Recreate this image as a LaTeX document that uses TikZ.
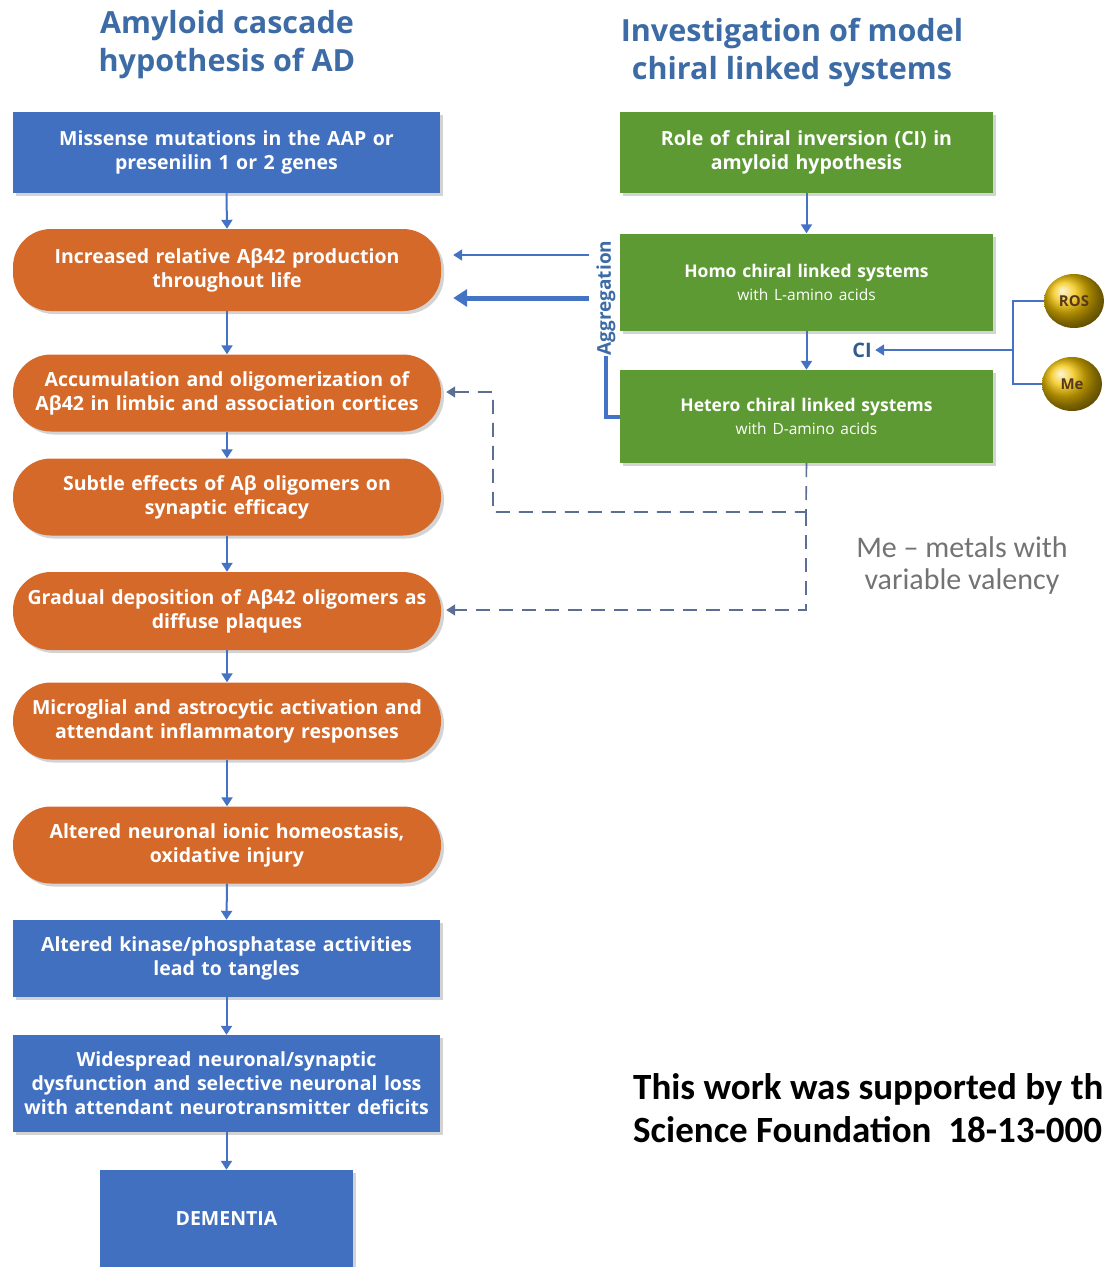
\documentclass[tikz,border=0pt]{standalone}
\usepackage{fontspec}
\setmainfont{Open Sans}
\newfontfamily\calfont{Carlito}
\usetikzlibrary{arrows.meta,shadows,shapes.geometric}
\definecolor{boxblue}{HTML}{4170C0}
\definecolor{boxorange}{HTML}{D4692A}
\definecolor{boxgreen}{HTML}{5E9A34}
\definecolor{titleblue}{HTML}{3C6BA5}
\definecolor{arrblue}{HTML}{4472C4}
\definecolor{dashblue}{HTML}{5B6F95}
\definecolor{gold}{HTML}{F2C200}
\begin{document}
\begin{tikzpicture}[x=1pt,y=-1pt,
  base/.style={text=white,font=\bfseries\fontsize{19.5}{24}\selectfont,align=center,inner sep=2pt,
    drop shadow={opacity=0.35,shadow xshift=3pt,shadow yshift=-3pt}},
  bluebox/.style={base,rectangle,fill=boxblue,minimum width=427pt,text width=422pt},
  orangebox/.style={base,rectangle,rounded corners=38pt,fill=boxorange,minimum width=428pt,text width=422pt},
  greenbox/.style={base,rectangle,fill=boxgreen,minimum width=373pt,text width=366pt},
  titletext/.style={text=titleblue,font=\bfseries\fontsize{30.5}{38}\selectfont,align=center},
  flow/.style={draw=arrblue,line width=2pt,-{Triangle[length=9pt,width=11pt]}},
  dashflow/.style={draw=dashblue,line width=1.6pt,dash pattern=on 14pt off 9pt,-{Triangle[length=9pt,width=11pt]}},
  ball/.style={ellipse,shading=ball,ball color=gold,minimum width=60pt,minimum height=54pt,inner sep=0pt,
    text=black!55!brown,font=\bfseries\fontsize{15}{16}\selectfont}
]
\useasboundingbox (0,0) rectangle (1105,1267);
\begin{scope}
\clip (0,0) rectangle (1105,1267);

% titles
\node[titletext] (tl) at (227,45) {Amyloid cascade\\hypothesis of AD};
\node[titletext] (tr) at (792,52) {Investigation of model\\chiral linked systems};

% left column
\node[bluebox,minimum height=81pt] (b1) at (226.5,152.5) {Missense mutations in the AAP or\\presenilin 1 or 2 genes};
\node[orangebox,minimum height=82pt] (o2) at (227,270) {Increased relative Aβ42 production\\throughout life};
\node[orangebox,minimum height=77pt] (o3) at (227,393) {Accumulation and oligomerization of\\Aβ42 in limbic and association cortices};
\node[orangebox,minimum height=77pt] (o4) at (227,497) {Subtle effects of Aβ oligomers on\\synaptic efficacy};
\node[orangebox,minimum height=78pt] (o5) at (227,611) {Gradual deposition of Aβ42 oligomers as\\diffuse plaques};
\node[orangebox,minimum height=77pt] (o6) at (227,721) {Microglial and astrocytic activation and\\attendant inflammatory responses};
\node[orangebox,minimum height=77pt] (o7) at (227,845) {Altered neuronal ionic homeostasis,\\oxidative injury};
\node[bluebox,minimum height=77pt] (b8) at (226.5,958.5) {Altered kinase/phosphatase activities\\lead to tangles};
\node[bluebox,minimum height=97pt] (b9) at (226.5,1083.5) {Widespread neuronal/synaptic\\dysfunction and selective neuronal loss\\with attendant neurotransmitter deficits};
\node[bluebox,minimum width=253pt,text width=240pt,minimum height=97pt] (dem) at (226.5,1218.5) {DEMENTIA};

\foreach \a/\b in {b1/o2,o2/o3,o3/o4,o4/o5,o5/o6,o6/o7,o7/b8,b8/b9,b9/dem}
  \draw[flow] (\a.south) -- (\b.north);

% right column
\node[greenbox,minimum height=81pt] (g1) at (806.5,152.5) {Role of chiral inversion (CI) in\\amyloid hypothesis};
\node[greenbox,minimum height=97pt,font=\bfseries\fontsize{17.5}{24}\selectfont] (g2) at (806.5,282) {Homo chiral linked systems\\[-1pt]{\mdseries\fontsize{15.5}{20}\selectfont with L-amino acids}};
\node[greenbox,minimum height=93pt,font=\bfseries\fontsize{17.5}{24}\selectfont] (g3) at (806.5,416.5) {Hetero chiral linked systems\\[-1pt]{\mdseries\fontsize{15.5}{20}\selectfont with D-amino acids}};
\draw[flow] (g1.south) -- (g2.north);
\draw[flow] (g2.south) -- (g3.north);

% CI and factors
\node[text=titleblue!85!black,font=\bfseries\fontsize{20}{22}\selectfont] (ci) at (862,350) {CI};
\node[ball] (ros) at (1074,301) {ROS};
\node[ball] (me) at (1072,384) {Me};
\coordinate (brk) at (1013,350);
\draw[draw=arrblue,line width=1.4pt] (ros.west) -- (ros.west -| brk) -- (me.west -| brk) -- (me.west);
\draw[flow,line width=1.6pt] (brk) -- (ci.east);

% aggregation
\node[rotate=90,text=titleblue,font=\bfseries\fontsize{19}{20}\selectfont,inner sep=1pt] (agg) at (606,298) {Aggregation};
\coordinate (aggcorner) at (606,417);
\draw[draw=arrblue,line width=4pt] (g3.west |- aggcorner) -- (aggcorner) -- (agg.west);
\coordinate (a1) at (589,255);
\coordinate (a2) at (589,298);
\draw[flow] (a1) -- ([xshift=12pt]o2.east |- a1);
\draw[draw=arrblue,line width=5pt,-{Triangle[length=14pt,width=17pt]}] (a2) -- ([xshift=12pt]o2.east |- a2);

% dashed connections
\coordinate (dj) at (806,512);
\coordinate (dl) at (493,512);
\coordinate (dd) at (806,610);
\draw[dashflow] (g3.south) -- (dj) -- (dl) -- (dl |- 0,392) -- ([xshift=5pt]o3.east |- 0,392);
\draw[dashflow] (dj) -- (dd) -- ([xshift=5pt]o5.east |- dd);

% notes
\node[text=black!55,font=\calfont\fontsize{30}{32}\selectfont,align=center] (note) at (962,565) {Me – metals with\\variable valency};
\node[anchor=west,text=black,font=\calfont\bfseries\fontsize{37}{43}\selectfont,align=left,inner sep=0pt] (ack) at (633,1108) {This work was supported by th\\Science Foundation\ \ 18-13-000};
\end{scope}
\end{tikzpicture}
\end{document}
